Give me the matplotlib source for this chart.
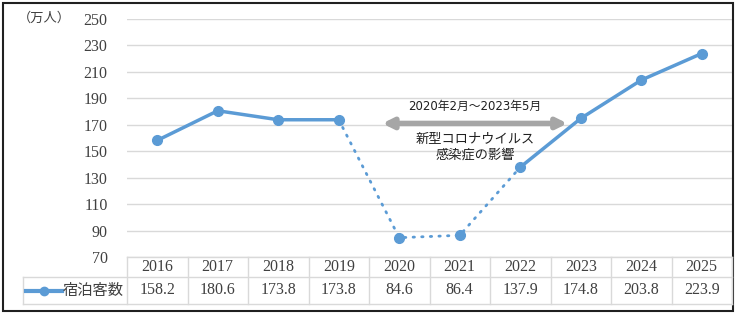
import numpy as np
import matplotlib.pyplot as plt
from matplotlib.patches import Rectangle
from matplotlib.lines import Line2D

plt.rcParams['font.family'] = ['Liberation Serif', 'Noto Sans CJK JP', 'DejaVu Sans']

years = ['2016', '2017', '2018', '2019', '2020', '2021', '2022', '2023', '2024', '2025']
guests = [158.2, 180.6, 173.8, 173.8, 84.6, 86.4, 137.9, 174.8, 203.8, 223.9]
labels = ['158.2', '180.6', '173.8', '173.8', '84.6', '86.4', '137.9', '174.8', '203.8', '223.9']
yticks = [70, 90, 110, 130, 150, 170, 190, 210, 230, 250]
series_name = '宿泊客数'
unit = '（万人）'
period = '2020年2月～2023年5月'
note = '新型コロナウイルス\n感染症の影響'

W, H = 740, 315
blue = '#5B9BD5'
grid = '#D9D9D9'
txtc = '#404040'

fig = plt.figure(figsize=(W/100, H/100), dpi=100)

# main chart area
x0, x1 = 127, 732
ytop, ybot = 19, 257
ax = fig.add_axes([x0/W, 1-ybot/H, (x1-x0)/W, (ybot-ytop)/H])
ax.set_xlim(-0.5, 9.5)
ax.set_ylim(70, 250)
ax.set_yticks(yticks)
ax.set_yticklabels([str(t) for t in yticks], fontsize=11.5, color=txtc)
ax.tick_params(axis='y', length=0, pad=14)
ax.set_xticks([])
for s in ax.spines.values():
    s.set_visible(False)
ax.grid(axis='y', color=grid, lw=1)
ax.set_axisbelow(True)

x = np.arange(len(years))
g = np.array(guests)
# solid before and after covid, dotted during
ax.plot(x[:4], g[:4], color=blue, lw=2.5, marker='o', ms=7, zorder=3)
ax.plot(x[3:7], g[3:7], color=blue, lw=2.0, ls=(0, (0.5, 2.6)), dash_capstyle='round', zorder=2)
ax.plot(x[4:6], g[4:6], color=blue, lw=0, marker='o', ms=7, zorder=3)
ax.plot(x[6:], g[6:], color=blue, lw=2.5, marker='o', ms=7, zorder=3)

# annotation arrow
ax.annotate('', xy=(3.72, 171), xytext=(6.78, 171),
            arrowprops=dict(arrowstyle='<|-|>', color='#A6A6A6', lw=4,
                            mutation_scale=15, shrinkA=0, shrinkB=0))
ax.text(5.25, 184, period, ha='center', va='center', fontsize=8.5,
        family=['DejaVu Sans', 'Noto Sans CJK JP'], color='#202020')
ax.text(5.25, 153, note, ha='center', va='center', fontsize=9.5,
        family=['Noto Sans CJK JP'], color='#202020', linespacing=1.2)

# unit label
fig.text(44/W, 1-18/H, unit, ha='center', va='center', fontsize=9.5,
         family=['Noto Sans CJK JP'], color=txtc)

# data table below the chart
t0 = 23
tb = 304
cw = (x1-x0)/10.0
tax = fig.add_axes([0, 0, 1, 1])
tax.set_xlim(0, W)
tax.set_ylim(H, 0)
tax.axis('off')
mid = 277
for i, (yr, lab) in enumerate(zip(years, labels)):
    cx = x0 + cw*(i+0.5)
    tax.text(cx, (ybot+mid)/2, yr, ha='center', va='center', fontsize=11.5, color=txtc)
    tax.text(cx, (mid+tb)/2, lab, ha='center', va='center', fontsize=11.5, color=txtc)
for i in range(11):
    xx = x0 + cw*i
    tax.plot([xx, xx], [ybot, tb], color=grid, lw=1)
tax.plot([t0, t0], [mid, tb], color=grid, lw=1)
tax.plot([x0, x1], [ybot, ybot], color=grid, lw=1)
tax.plot([t0, x1], [mid, mid], color=grid, lw=1)
tax.plot([t0, x1], [tb, tb], color=grid, lw=1)

# legend key in the table
tax.add_line(Line2D([26, 62], [(mid+tb)/2]*2, color=blue, lw=3))
tax.plot([44], [(mid+tb)/2], 'o', color=blue, ms=6)
tax.text(63, (mid+tb)/2, series_name, ha='left', va='center', fontsize=11,
         family=['Noto Sans CJK JP'], color=txtc)

# outer frame
tax.add_patch(Rectangle((2.5, 3), 730, 308, fill=False, ec='#202020', lw=1.5))

fig.savefig('out.png', dpi=100)
